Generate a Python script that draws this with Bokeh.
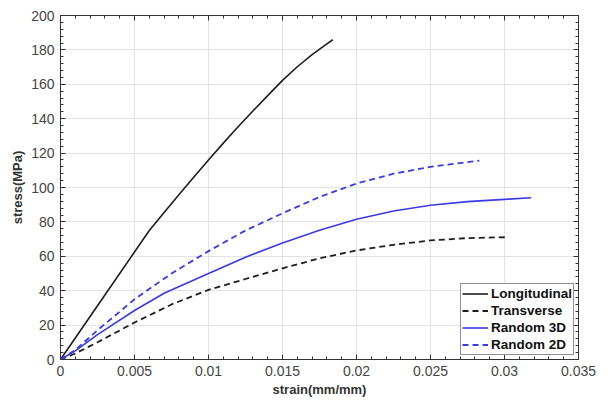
import numpy as np
from bokeh.plotting import figure
from bokeh.models import (LinearAxis, FixedTicker, CustomJSTickFormatter, Range1d,
                          Legend, LegendItem)
from bokeh.embed import file_html
from bokeh.resources import INLINE

# ---- data ----
long_strain = [0, 0.003, 0.006, 0.007, 0.008, 0.009, 0.010, 0.011, 0.012, 0.013, 0.014, 0.015, 0.016, 0.017, 0.018, 0.0184]
long_stress = [0, 37.5, 75, 85.5, 95.8, 106, 116, 125.8, 135.3, 144.5, 153.4, 162.3, 170.2, 177.3, 183.5, 185.9]

trans_strain = [0, 0.001, 0.0025, 0.005, 0.0075, 0.010, 0.0125, 0.015, 0.0175, 0.020, 0.0225, 0.025, 0.0275, 0.0301]
trans_stress = [0, 3.5, 10, 21.5, 32, 40.5, 46.8, 53, 58.8, 63.4, 66.7, 69.2, 70.6, 71.1]

r3d_strain = [0, 0.001, 0.0025, 0.005, 0.007, 0.010, 0.0125, 0.015, 0.0175, 0.020, 0.0225, 0.025, 0.0275, 0.030, 0.0318]
r3d_stress = [0, 5, 14.5, 28.5, 38.5, 50, 59.5, 67.8, 75.2, 81.5, 86.3, 89.7, 91.8, 93.1, 94]

r2d_strain = [0, 0.001, 0.0025, 0.005, 0.0075, 0.010, 0.0125, 0.015, 0.0175, 0.020, 0.0225, 0.025, 0.0283]
r2d_stress = [0, 5.5, 17, 35, 50, 63, 75, 85, 94.5, 102.3, 108, 112, 115.6]

x_ticks = [0, 0.005, 0.01, 0.015, 0.02, 0.025, 0.03, 0.035]
y_ticks = [0, 20, 40, 60, 80, 100, 120, 140, 160, 180, 200]
x_minor = [round(v, 4) for v in np.arange(0, 0.0351, 0.001)]
y_minor = list(range(0, 201, 4))

series_names = ["Longitudinal", "Transverse", "Random 3D", "Random 2D"]

FONT = "Liberation Sans"
BLACK = "#1e1e1e"
BLUE = "#3a3ae6"

p = figure(width=612, height=401, output_backend="svg", toolbar_location=None,
           x_range=Range1d(0, 0.035), y_range=Range1d(0, 200),
           min_border_left=60, min_border_right=34, min_border_top=15, min_border_bottom=42)
p.outline_line_color = "#333333"
p.outline_line_width = 1

fmt = CustomJSTickFormatter(code="var s = tick.toFixed(3); s = s.replace(/0+$/, ''); s = s.replace(/\\.$/, ''); return s;")
blank = CustomJSTickFormatter(code="return '';")

def style_axis(ax, ticks, minor, labels=True):
    ax.ticker = FixedTicker(ticks=ticks, minor_ticks=minor)
    ax.major_tick_in = 5
    ax.major_tick_out = 0
    ax.minor_tick_in = 3
    ax.minor_tick_out = 0
    ax.major_tick_line_color = "#333333"
    ax.minor_tick_line_color = "#333333"
    ax.axis_line_color = "#333333"
    if labels:
        ax.major_label_text_font = FONT
        ax.major_label_text_font_size = "14px"
        ax.major_label_text_color = "#454545"
        ax.major_label_standoff = 6
    else:
        ax.formatter = blank
        ax.major_label_standoff = 0

xa = p.xaxis[0]
ya = p.yaxis[0]
style_axis(xa, x_ticks, x_minor)
style_axis(ya, y_ticks, y_minor)
xa.formatter = fmt
xa.axis_label = "strain(mm/mm)"
ya.axis_label = "stress(MPa)"
for ax in (xa, ya):
    ax.axis_label_text_font = FONT
    ax.axis_label_text_font_size = "13px"
    ax.axis_label_text_font_style = "bold"
    ax.axis_label_text_color = "#333333"
    ax.axis_label_standoff = 3

top = LinearAxis()
right = LinearAxis()
style_axis(top, x_ticks, x_minor, labels=False)
style_axis(right, y_ticks, y_minor, labels=False)
p.add_layout(top, "above")
p.add_layout(right, "right")

p.xgrid.ticker = FixedTicker(ticks=x_ticks)
p.ygrid.ticker = FixedTicker(ticks=y_ticks)
p.grid.grid_line_color = "#e3e3e3"
p.grid.grid_line_width = 1

r1 = p.line(long_strain, long_stress, line_color=BLACK, line_width=1.6)
r2 = p.line(trans_strain, trans_stress, line_color=BLACK, line_width=1.8, line_dash="6 4")
r3 = p.line(r3d_strain, r3d_stress, line_color=BLUE, line_width=1.6)
r4 = p.line(r2d_strain, r2d_stress, line_color=BLUE, line_width=1.8, line_dash="6 4")

legend = Legend(items=[LegendItem(label=n, renderers=[r]) for n, r in zip(series_names, [r1, r2, r3, r4])],
                location="bottom_right")
legend.label_text_font = FONT
legend.label_text_font_size = "13.5px"
legend.label_text_font_style = "bold"
legend.label_text_color = "#111111"
legend.border_line_color = "#222222"
legend.border_line_width = 1
legend.background_fill_alpha = 1
legend.margin = 4
legend.padding = 1
legend.spacing = 0
legend.label_height = 17
legend.glyph_height = 17
legend.glyph_width = 26
legend.label_standoff = 3
p.add_layout(legend)

open("out.html", "w").write(file_html(p, INLINE))
